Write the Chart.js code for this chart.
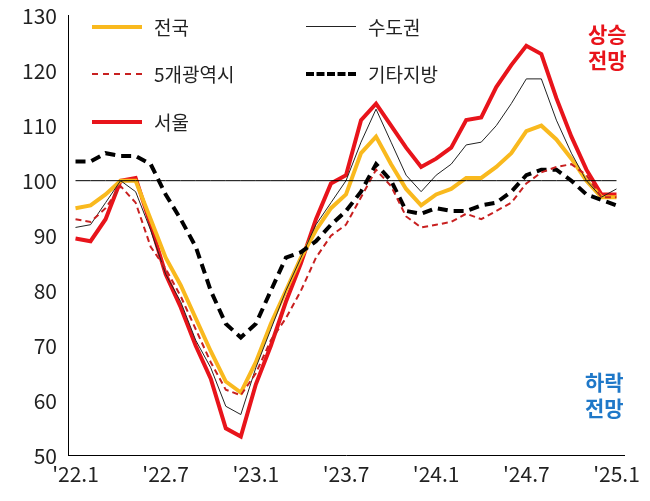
<!DOCTYPE html>
<html><head><meta charset="utf-8">
<script src="https://cdn.jsdelivr.net/npm/chart.js@4/dist/chart.umd.min.js"></script>
<style>
body{margin:0;background:#fff;font-family:"Noto Sans CJK KR","Noto Sans",sans-serif;}
#w{position:relative;width:650px;height:501px;}
.lg{position:absolute;font-size:19px;color:#222;display:flex;align-items:center;}
.sw{width:50px;height:0;margin-right:12px;}
.note{position:absolute;font-size:21px;font-weight:bold;line-height:26px;text-align:center;}
</style></head><body>
<div id="w"><canvas id="c" width="650" height="501"></canvas>
<div class="lg" style="left:92px;top:13px"><div class="sw" style="border-top:4px solid #F9B91E"></div>전국</div>
<div class="lg" style="left:306px;top:13px"><div class="sw" style="border-top:1px solid #222"></div>수도권</div>
<div class="lg" style="left:92px;top:60px"><div class="sw" style="border-top:2px dashed #C82020"></div>5개광역시</div>
<div class="lg" style="left:306px;top:60px"><div class="sw" style="border-top:4px dashed #000"></div>기타지방</div>
<div class="lg" style="left:92px;top:108px"><div class="sw" style="border-top:4px solid #E8141B"></div>서울</div>
<div class="note" style="left:588px;top:20px;color:#E8141B">상승<br>전망</div>
<div class="note" style="left:585px;top:368px;color:#1F78C8">하락<br>전망</div>
</div>
<script>
const labels=[];for(let y=22;y<=25;y++)for(let m=1;m<=12;m++){if(y==25&&m>1)break;labels.push("'"+y+"."+m);}
const national=[95,95.5,97.5,100,100,93,86,81,75,69,63.5,61.5,67,74,80,86,91,95,97.5,105,108,103,98.5,95.5,97.5,98.5,100.5,100.5,102.5,105,109,110,107.5,104,100,97,97];
const capital=[91.5,92,96,100,98,91,83,78,71,66,59,57.5,66,73,80,86,92,96,100,107,113,107,101,98,101,103,106.5,107,110,114,118.5,118.5,111,105,100,97,98.5];
const metro5=[93,92.5,95,99,96,88,84,79,73,67,62,61,65,71,75,80,86,90,92,97,102,99,93.5,91.5,92,92.5,94,93,94.5,96,99.5,101.5,102.5,103,101,97,97];
const others=[103.5,103.5,105,104.5,104.5,103,97.5,93,88,80,74,71.5,74,80,86,87,89,92,94.5,98,103,100,94.5,94,95,94.5,94.5,95.5,96,98,101,102,102,100,97.5,96.5,95.5];
const seoul=[89.5,89,93,100,100.5,92,83,77,70,64,55,53.5,63,70,78,85,93,99.5,101,111,114,110,106,102.5,104,106,111,111.5,117,121,124.5,123,115,108,102,97.5,97.5];
const baseline=labels.map(()=>100);
const ds=(d,c,w,dash)=>({data:d,borderColor:c,borderWidth:w,borderDash:dash||[],pointRadius:0,fill:false,tension:0});
const F={size:21,family:'Noto Sans CJK KR'};
new Chart(document.getElementById('c'),{type:'line',
data:{labels,datasets:[ds(baseline,'#000',1),ds(metro5,'#C82020',2,[6,4]),ds(others,'#000',4,[10,6]),ds(capital,'#222',1),ds(national,'#F9B91E',4),ds(seoul,'#E8141B',4)]},
options:{responsive:false,animation:false,layout:{padding:{left:0,right:26,top:8,bottom:14}},
plugins:{legend:{display:false},tooltip:{enabled:false}},
scales:{x:{offset:true,grid:{display:false,drawTicks:true,tickLength:6,color:'#000'},border:{color:'#000'},
ticks:{autoSkip:false,maxRotation:0,padding:0,color:'#222',font:F,callback:(v,i)=>i%6==0?labels[i]:''}},
y:{min:50,max:130,afterFit:s=>{s.width=68;},grid:{display:false},border:{color:'#000'},ticks:{stepSize:10,color:'#222',font:F}}}}});
</script></body></html>
